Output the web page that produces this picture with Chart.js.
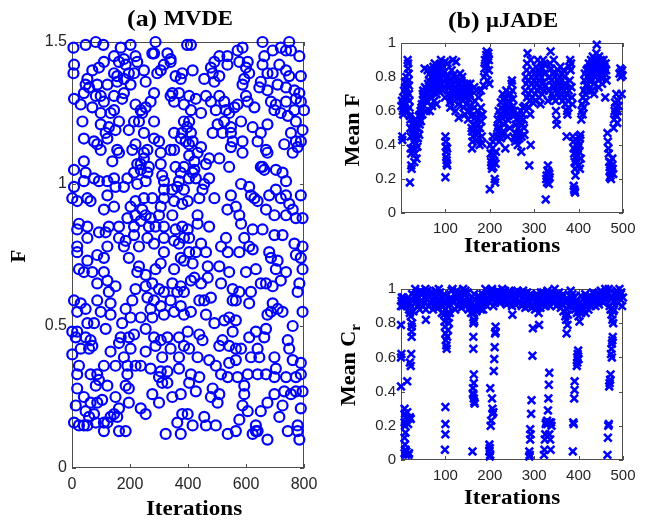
<!DOCTYPE html>
<html>
<head>
<meta charset="UTF-8">
<title>MVDE vs muJADE</title>
<script src="https://cdn.jsdelivr.net/npm/chart.js@4.4.1/dist/chart.umd.min.js"></script>
<style>
  body { margin: 0; background: #fff; }
  #wrap { position: relative; width: 649px; height: 524px; }
  canvas { position: absolute; }
</style>
</head>
<body>
<div id="wrap">
  <canvas id="mvde" width="330" height="524" style="left:0;top:0"></canvas>
  <canvas id="jadeF" width="319" height="262" style="left:330px;top:0"></canvas>
  <canvas id="jadeCr" width="319" height="262" style="left:330px;top:262px"></canvas>
</div>
<script>
// (a) MVDE: [iteration, F] in four quarters
const mvdeTopLeft = [[5,1.48],[47,1.49],[82,1.5],[108,1.49],[168,1.48],[202,1.49],[288,1.5],[397,1.49],
  [283,1.46],[277,1.46],[329,1.46],[340,1.44],[145,1.45],[179,1.44],[219,1.45],
  [7,1.42],[5,1.39],[110,1.43],[93,1.41],[162,1.43],[185,1.42],[225,1.43],[317,1.42],[340,1.43],
  [70,1.4],[53,1.37],[145,1.39],[156,1.38],[214,1.39],[248,1.4],[196,1.39],[306,1.4],[294,1.39],[357,1.38],[380,1.39],
  [47,1.35],[59,1.34],[87,1.35],[122,1.35],[156,1.36],[179,1.37],[202,1.35],[254,1.36],[375,1.37],
  [7,1.3],[41,1.32],[82,1.31],[99,1.31],[145,1.31],[179,1.32],[173,1.3],[283,1.32],[340,1.31],[369,1.32],[346,1.32],
  [30,1.28],[70,1.27],[110,1.29],[145,1.26],[219,1.28],[237,1.26],[254,1.27],[271,1.29],[242,1.25],[133,1.25],[99,1.25],[352,1.29],[386,1.28],
  [36,1.22],[99,1.21],[127,1.2],[162,1.22],[214,1.22],[231,1.22],[283,1.22],[386,1.22],[397,1.2],
  [41,1.16],[76,1.15],[116,1.18],[122,1.16],[150,1.19],[196,1.19],[248,1.18],[283,1.16],[300,1.15],[352,1.18],[380,1.18],[375,1.16],[392,1.15],[87,1.14],
  [99,1.12],[156,1.12],[162,1.11],[208,1.12],[219,1.14],[248,1.11],[260,1.12],[306,1.11],[340,1.12],[352,1.12],[403,1.14],
  [41,1.08],[7,1.05],[139,1.08],[225,1.07],[248,1.09],[237,1.07],[265,1.06],[306,1.07],[357,1.06],[386,1.06],
  [47,1.04],[76,1.02],[122,1.01],[145,1.02],[191,1.02],[214,1.04],[237,1.05],[260,1.04],[311,1.03],[317,1.01],[375,1.04],[403,1.02],[363,0.99],
  [7,0.99],[41,1.01],[93,1.01],[150,0.99],[179,0.99],[225,1.0],[254,1.01],[317,0.98],[346,0.98],[386,0.98],[369,1.01],
  [1,0.95],[53,0.95],[64,0.94],[18,0.94],[122,0.96],[219,0.94],[248,0.95],[277,0.95],[306,0.92],[352,0.94],[380,0.93],[317,0.95],
  [110,0.91],[145,0.92],[202,0.92],[242,0.91],[254,0.89],[271,0.88],[300,0.89],[219,0.89],[191,0.88],[346,0.89],
  [24,0.86],[53,0.85],[18,0.84],[93,0.83],[127,0.85],[162,0.85],[214,0.85],[237,0.87],[265,0.85],[288,0.85],[317,0.85],[380,0.85],[116,0.83],[357,0.84],
  [18,0.78],[53,0.81],[162,0.81],[185,0.8],[214,0.82],[260,0.81],[283,0.79],[317,0.81],[352,0.8],[369,0.79],[386,0.81],[122,0.78],[179,0.78],[231,0.78]];

const mvdeTopRight = [[410,1.49],[657,1.5],[588,1.48],[571,1.47],[692,1.47],[720,1.48],[749,1.5],[755,1.47],[738,1.47],[784,1.45],[663,1.45],[657,1.42],[715,1.42],
  [508,1.45],[536,1.45],[491,1.43],[479,1.41],[577,1.43],[606,1.43],[600,1.41],[416,1.4],[485,1.39],[508,1.38],[536,1.42],[611,1.39],[674,1.39],[692,1.39],
  [738,1.4],[749,1.38],[789,1.38],[456,1.37],[491,1.36],[594,1.37],[651,1.36],[588,1.35],[646,1.34],[709,1.35],[738,1.34],[674,1.33],[767,1.33],[784,1.32],
  [404,1.31],[427,1.3],[462,1.31],[479,1.29],[508,1.31],[525,1.29],[571,1.28],[600,1.31],[606,1.29],[629,1.27],[686,1.29],[703,1.28],[738,1.29],[772,1.3],[789,1.29],
  [410,1.26],[445,1.25],[496,1.26],[531,1.26],[560,1.27],[542,1.25],[698,1.26],[720,1.25],[744,1.24],[767,1.26],[800,1.26],[772,1.22],[404,1.22],[502,1.21],
  [525,1.22],[548,1.2],[583,1.22],[623,1.2],[674,1.21],[410,1.18],[485,1.18],[519,1.18],[548,1.18],[588,1.15],[554,1.15],[651,1.18],[755,1.18],[795,1.19],
  [416,1.15],[445,1.13],[433,1.11],[404,1.1],[548,1.13],[588,1.11],[640,1.15],[732,1.14],[772,1.15],[789,1.15],[761,1.11],[778,1.13],[669,1.12],[674,1.11],
  [473,1.09],[508,1.09],[462,1.07],[422,1.08],[422,1.05],[542,1.06],[657,1.06],[651,1.06],[663,1.05],[703,1.05],[726,1.04],[738,1.01],[473,1.02],[456,1.0],
  [450,0.98],[416,1.04],[427,1.02],[583,1.0],[611,0.99],[629,0.95],[548,0.96],[491,0.95],[703,0.98],[720,0.95],[680,0.96],[738,0.96],[789,0.96],[399,0.94],
  [439,0.95],[617,0.96],[640,0.94],[669,0.91],[536,0.91],[565,0.92],[577,0.89],[749,0.93],[761,0.91],[772,0.88],[795,0.88],[738,0.89],[698,0.89],[433,0.89],
  [433,0.86],[473,0.85],[583,0.86],[623,0.84],[657,0.84],[698,0.82],[726,0.82],[531,0.81],[404,0.81],[445,0.79],[514,0.78],[594,0.81],[611,0.78],[767,0.79],
  [795,0.78],[680,0.76],[399,0.84]];

const mvdeBottomLeft = [[18,0.76],[87,0.75],[110,0.74],[196,0.74],[317,0.76],[375,0.74],[24,0.7],[53,0.73],[41,0.69],[70,0.69],[110,0.69],[231,0.71],[225,0.69],
  [254,0.68],[288,0.7],[306,0.72],[352,0.7],[386,0.73],[87,0.65],[122,0.66],[150,0.64],[127,0.62],[219,0.63],[254,0.64],[277,0.65],[300,0.63],[317,0.62],
  [346,0.65],[375,0.64],[386,0.62],[363,0.62],[7,0.59],[30,0.58],[87,0.59],[133,0.58],[208,0.59],[260,0.6],[283,0.59],[306,0.57],[340,0.59],[375,0.57],
  [47,0.56],[18,0.55],[99,0.55],[133,0.54],[185,0.56],[271,0.56],[173,0.51],[202,0.53],[237,0.53],[277,0.53],[317,0.54],[352,0.55],[386,0.54],[53,0.51],
  [76,0.51],[116,0.49],[1,0.48],[18,0.48],[13,0.46],[47,0.46],[70,0.43],[64,0.45],[168,0.46],[196,0.46],[214,0.47],[254,0.49],[283,0.46],[306,0.45],
  [329,0.46],[369,0.46],[386,0.43],[1,0.4],[30,0.42],[59,0.42],[133,0.41],[162,0.44],[202,0.42],[179,0.39],[254,0.41],[288,0.43],[311,0.39],[340,0.42],
  [369,0.39],[110,0.36],[24,0.36],[150,0.36],[191,0.36],[219,0.36],[237,0.36],[191,0.33],[271,0.35],[306,0.34],[300,0.32],[329,0.34],[369,0.35],[18,0.33],
  [64,0.33],[87,0.33],[93,0.31],[122,0.29],[82,0.29],[185,0.29],[196,0.28],[311,0.3],[329,0.3],[18,0.28],[41,0.25],[150,0.25],[104,0.24],[87,0.23],
  [64,0.23],[196,0.23],[277,0.26],[300,0.23],[346,0.25],[375,0.26],[237,0.21],[254,0.19],[13,0.22],[47,0.2],[76,0.19],[59,0.18],[145,0.19],[162,0.21],
  [133,0.18],[156,0.18],[185,0.13],[380,0.19],[363,0.16],[7,0.16],[24,0.15],[41,0.15],[53,0.15],[82,0.16],[110,0.16],[110,0.13],[162,0.13],[323,0.12],
  [375,0.12],[122,0.16]];

const mvdeBottomRight = [[404,0.76],[427,0.76],[462,0.76],[537,0.76],[577,0.76],[623,0.77],[686,0.74],[709,0.73],[772,0.75],[789,0.74],[416,0.72],[468,0.71],
  [508,0.71],[542,0.69],[600,0.69],[634,0.7],[703,0.7],[738,0.69],[795,0.7],[410,0.66],[445,0.65],[468,0.67],[422,0.67],[514,0.65],[554,0.63],[577,0.62],
  [617,0.62],[651,0.65],[669,0.65],[692,0.64],[720,0.66],[784,0.65],[778,0.62],[439,0.59],[456,0.59],[479,0.6],[554,0.59],[565,0.59],[611,0.58],[692,0.58],
  [709,0.56],[726,0.55],[686,0.55],[674,0.54],[795,0.55],[761,0.5],[410,0.55],[462,0.54],[525,0.52],[542,0.53],[565,0.52],[491,0.51],[554,0.48],[399,0.48],
  [450,0.45],[439,0.47],[611,0.46],[634,0.48],[663,0.46],[669,0.49],[744,0.45],[508,0.43],[519,0.45],[542,0.43],[565,0.42],[583,0.42],[617,0.39],[640,0.42],
  [646,0.39],[698,0.39],[749,0.42],[761,0.38],[789,0.37],[404,0.42],[433,0.39],[473,0.38],[496,0.36],[542,0.37],[565,0.38],[606,0.33],[640,0.33],[669,0.33],
  [703,0.35],[698,0.32],[738,0.32],[772,0.32],[789,0.33],[410,0.33],[439,0.32],[404,0.3],[514,0.33],[537,0.32],[571,0.32],[427,0.27],[485,0.28],[508,0.26],
  [594,0.29],[594,0.26],[698,0.26],[732,0.27],[755,0.26],[772,0.27],[795,0.27],[479,0.25],[502,0.23],[588,0.22],[606,0.2],[651,0.2],[674,0.23],[726,0.22],
  [789,0.21],[399,0.19],[456,0.18],[416,0.15],[462,0.15],[496,0.15],[577,0.17],[634,0.15],[634,0.13],[640,0.13],[715,0.18],[744,0.13],[778,0.15],[778,0.13],
  [784,0.1],[537,0.12],[565,0.13],[674,0.1],[623,0.12]];

// (b) muJADE mean F per iteration
const jadeMeanF = [[1,0.63],[2,0.66],[3,0.45],[3,0.43],[4,0.6],[5,0.68],[6,0.64],[7,0.72],[8,0.62],[9,0.77],[10,0.7],[10,0.74],[5,0.58],
  [12,0.8],[13,0.76],[14,0.73],[15,0.9],[16,0.88],[16,0.85],[17,0.82],[17,0.78],[18,0.75],[18,0.7],[19,0.66],[19,0.62],[20,0.57],[21,0.55],[21,0.5],[22,0.45],
  [22,0.38],[23,0.35],[23,0.28],[24,0.26],[20,0.18],[15,0.6],[14,0.68],
  [26,0.52],[27,0.46],[28,0.42],[29,0.38],[30,0.48],[31,0.44],[32,0.35],[33,0.5],[34,0.41],[35,0.47],[36,0.53],[37,0.39],[38,0.44],[39,0.5],[40,0.57],[41,0.46],
  [42,0.52],[43,0.58],[44,0.6],[45,0.54],[30,0.3],[35,0.32],[33,0.55],[28,0.5],
  [46,0.62],[47,0.64],[48,0.58],[49,0.7],[50,0.72],[51,0.66],[52,0.68],[53,0.85],[54,0.74],[55,0.69],[56,0.71],[57,0.6],[58,0.73],[59,0.65],[60,0.84],
  [61,0.76],[62,0.7],[63,0.78],[64,0.82],[65,0.72],[66,0.68],[67,0.75],[68,0.8],[69,0.84],[70,0.77],[71,0.73],[72,0.79],[73,0.86],[74,0.71],[75,0.81],[76,0.88],
  [77,0.74],[78,0.78],[79,0.83],[80,0.7],[81,0.76],[82,0.85],[83,0.8],[84,0.72],[85,0.78],[86,0.87],[87,0.82],[88,0.75],[89,0.79],[90,0.9],[91,0.84],[92,0.76],
  [93,0.72],[94,0.81],[95,0.86],[96,0.78],[97,0.74],[98,0.83],[99,0.68],[99,0.89],[65,0.6],[70,0.63],[75,0.66],[80,0.64],
  [100,0.45],[101,0.42],[101,0.39],[102,0.36],[102,0.33],[103,0.31],[103,0.29],[104,0.28],[100,0.21],[104,0.38],
  [105,0.88],[106,0.8],[107,0.74],[108,0.7],[109,0.76],[110,0.65],[111,0.62],[112,0.72],[113,0.78],[114,0.84],[115,0.69],[116,0.75],[117,0.9],[118,0.81],
  [119,0.73],[120,0.66],[121,0.71],[122,0.77],[123,0.6],[124,0.89],[125,0.74],[126,0.68],[127,0.8],[128,0.72],[129,0.64],[130,0.56],[108,0.78],[112,0.67],[118,0.7],
  [131,0.7],[132,0.76],[133,0.82],[134,0.74],[135,0.68],[136,0.78],[137,0.73],[138,0.8],[139,0.7],[140,0.66],[141,0.62],[142,0.74],[143,0.7],[144,0.58],
  [145,0.72],[146,0.68],[147,0.64],[148,0.7],[149,0.76],[150,0.74],[151,0.55],[152,0.6],[153,0.67],[154,0.72],[155,0.7],[156,0.76],[157,0.63],[158,0.57],
  [159,0.5],[160,0.48],[160,0.38],[161,0.42],[162,0.45],[163,0.52],[164,0.58],[165,0.62],[166,0.66],[167,0.56],[168,0.5],[169,0.46],[170,0.43],[171,0.48],
  [172,0.55],[173,0.6],[174,0.52],[175,0.47],[176,0.44],[177,0.4],[178,0.5],[179,0.57],[180,0.62],[181,0.54],[182,0.45],[183,0.41],[184,0.58],[170,0.72],
  [175,0.68],[165,0.74],[180,0.72],
  [186,0.75],[187,0.8],[188,0.85],[189,0.9],[190,0.88],[191,0.82],[192,0.93],[193,0.95],[194,0.87],[195,0.78],[196,0.92],[197,0.94],[198,0.84],[199,0.76],[198,0.9],
  [200,0.14],[201,0.4],[202,0.35],[203,0.3],[204,0.28],[205,0.32],[206,0.38],[207,0.42],[208,0.27],[209,0.3],[210,0.34],[211,0.2],[212,0.18],[213,0.29],
  [214,0.36],[207,0.45],[205,0.26],
  [216,0.45],[217,0.5],[218,0.55],[219,0.48],[220,0.6],[221,0.42],[222,0.54],[223,0.58],[224,0.5],[225,0.65],[226,0.62],[227,0.56],[228,0.46],[229,0.7],
  [230,0.67],[231,0.6],[232,0.52],[233,0.63],[234,0.68],[235,0.38],[236,0.57],[237,0.72],[238,0.64],[239,0.6],[240,0.55],[241,0.69],[242,0.66],[243,0.62],
  [244,0.58],[245,0.5],[246,0.65],[247,0.7],[248,0.6],[249,0.76],[250,0.78],[251,0.72],[252,0.67],[253,0.63],[254,0.57],[255,0.6],[225,0.44],[230,0.48],[240,0.45],
  [256,0.44],[257,0.42],[258,0.47],[259,0.52],[260,0.55],[261,0.46],[262,0.43],[263,0.4],[264,0.5],[265,0.58],[266,0.53],[267,0.44],[268,0.48],[269,0.56],
  [270,0.6],[271,0.36],[272,0.45],[273,0.52],[274,0.58],[275,0.62],[276,0.55],[277,0.5],[278,0.46],[279,0.63],[280,0.72],
  [281,0.8],[282,0.76],[283,0.84],[284,0.88],[285,0.94],[286,0.78],[287,0.7],[288,0.62],[289,0.28],[290,0.66],[292,0.4],[291,0.58],[284,0.68],
  [292,0.9],[293,0.72],[294,0.8],[295,0.76],[296,0.68],[297,0.65],[298,0.84],[299,0.78],[300,0.74],[301,0.82],[302,0.7],[303,0.66],[304,0.86],[305,0.8],
  [306,0.76],[307,0.72],[308,0.9],[309,0.84],[310,0.78],[311,0.68],[312,0.74],[313,0.82],[314,0.64],[315,0.88],[316,0.8],[317,0.76],[318,0.7],[319,0.85],
  [320,0.9],[321,0.77],[322,0.72],[323,0.82],[324,0.87],[325,0.75],
  [326,0.08],[327,0.2],[328,0.22],[329,0.18],[330,0.25],[331,0.28],[332,0.2],[333,0.17],[334,0.23],[335,0.21],[332,0.24],
  [331,0.66],[333,0.72],[335,0.8],[336,0.88],[337,0.95],[338,0.85],[339,0.78],[340,0.7],[341,0.75],[342,0.82],[343,0.68],[344,0.9],[345,0.74],
  [346,0.8],[347,0.72],[348,0.66],[349,0.6],[350,0.55],[351,0.52],[352,0.7],[353,0.78],[354,0.84],[355,0.76],[356,0.68],[357,0.72],[358,0.8],[359,0.86],
  [360,0.74],[361,0.7],[362,0.78],[363,0.82],[364,0.66],[365,0.75],[366,0.84],[367,0.72],[368,0.8],[369,0.68],[370,0.64],[371,0.76],[372,0.7],[373,0.45],
  [374,0.6],[375,0.58],[376,0.66],[377,0.62],[378,0.72],[379,0.86],[380,0.78],
  [381,0.9],[382,0.84],[383,0.88],[384,0.74],[385,0.68],[386,0.64],[387,0.45],[388,0.42],[389,0.38],[390,0.35],[391,0.3],[392,0.26],[393,0.22],[389,0.16],
  [390,0.14],[391,0.13],[392,0.12],[394,0.32],[395,0.4],[393,0.36],
  [396,0.3],[397,0.34],[398,0.38],[399,0.42],[400,0.28],[401,0.36],[402,0.4],[403,0.44],[404,0.46],[405,0.32],[406,0.55],[407,0.6],[408,0.64],[409,0.58],
  [410,0.68],[403,0.26],
  [411,0.62],[412,0.72],[413,0.78],[414,0.82],[415,0.7],[416,0.66],[417,0.75],[418,0.84],[419,0.8],[420,0.76],[421,0.85],[422,0.72],[423,0.88],[424,0.78],[425,0.82],
  [426,0.86],[427,0.8],[428,0.9],[429,0.84],[430,0.78],[431,0.88],[432,0.92],[433,0.82],[434,0.86],[435,0.76],[436,0.9],[437,0.84],[438,0.8],[439,0.88],
  [440,0.94],[441,0.99],[442,0.86],[443,0.82],[444,0.9],[445,0.78],[446,0.92],[447,0.88],[448,0.84],[449,0.8],[450,0.9],[451,0.86],[452,0.82],[453,0.76],
  [454,0.88],[455,0.84],[456,0.9],[457,0.8],[458,0.86],[459,0.82],[460,0.68],[461,0.88],[462,0.84],[463,0.78],[430,0.72],[435,0.7],[445,0.74],
  [465,0.47],[466,0.42],[467,0.38],[468,0.35],[469,0.3],[470,0.27],[471,0.25],[472,0.22],[473,0.2],[474,0.24],[475,0.28],[476,0.32],[477,0.26],[478,0.23],
  [472,0.3],[470,0.21],
  [479,0.5],[480,0.55],[481,0.6],[482,0.65],[483,0.58],[484,0.62],[485,0.7],[486,0.57],[487,0.53],[488,0.6],[489,0.66],[490,0.63],
  [492,0.82],[494,0.85],[495,0.8],[496,0.83],[497,0.7],[498,0.84],[499,0.81]];

// (b) muJADE mean Cr: dense band near 1 and the drops below it
const jadeCrBand = [[4,0.91],[6,0.94],[12,0.92],[14,0.9],[16,0.95],[18,0.88],[20,0.86],[22,0.84],[24,0.9],[26,0.93],[28,0.87],[30,0.96],[32,1.0],[34,0.92],
  [36,0.98],[38,0.9],[40,0.95],[42,0.88],[44,0.99],[46,0.93],[48,0.97],[50,0.9],[52,0.95],[54,0.98],[56,0.88],[58,0.94],[60,0.99],[62,0.9],[64,0.96],[66,0.92],
  [68,0.98],[70,0.94],[72,0.88],[74,0.97],[76,0.93],[78,0.99],[80,0.91],[82,0.96],[84,0.89],[86,0.94],[88,0.98],[90,0.92],[92,0.86],[94,0.95],[96,0.9],
  [98,0.97],[100,0.88],[102,0.93],[104,0.84],[106,0.9],[108,0.8],[110,0.86],[112,0.95],[114,0.99],[116,1.0],[118,0.92],[120,0.97],[122,0.88],[124,0.94],
  [126,0.99],[128,0.9],[130,0.96],[132,0.93],[134,0.98],[136,0.89],[138,0.95],[140,1.0],[142,0.92],[144,0.97],[146,0.9],[148,0.95],[150,0.98],[152,0.88],
  [154,0.94],[156,0.9],[158,0.86],[160,0.92],[162,0.88],[164,0.86],[166,0.9],[168,0.94],[170,0.87],[172,0.92],[174,0.96],[176,0.9],[178,0.95],[180,0.88],
  [182,0.93],[184,0.97],[186,0.91],[188,0.96],[190,1.0],[192,0.94],[194,0.9],[196,0.98],[198,0.93],[200,0.96],[202,0.99],[204,0.94],[206,0.97],[208,0.9],
  [210,0.95],[212,0.92],[214,0.98],[216,0.94],[218,0.99],[220,0.96],[222,0.92],[224,0.98],[226,0.95],[228,1.0],[230,0.97],[232,0.93],[234,0.99],[236,0.95],
  [238,0.91],[240,0.97],[242,0.94],[244,0.99],[246,0.92],[248,0.96],[250,0.9],[252,0.97],[254,0.93],[256,0.98],[258,0.91],[260,0.95],[262,0.99],[264,0.92],
  [266,0.96],[268,0.93],[270,0.98],[272,0.9],[274,0.95],[276,0.92],[278,0.97],[280,0.89],[282,0.94],[284,0.98],[286,0.9],[288,0.95],[290,0.92],[292,0.97],
  [294,0.89],[296,0.94],[298,0.9],[300,0.96],[302,0.88],[304,0.93],[306,0.97],[308,0.9],[310,0.86],[312,0.94],[314,0.89],[316,0.95],[318,0.91],[320,0.98],
  [322,0.93],[324,0.97],[326,0.9],[328,0.95],[330,0.99],[332,0.92],[334,0.96],[336,0.9],[338,0.95],[340,0.98],[342,0.93],[344,0.97],[346,1.0],[348,0.94],
  [350,0.9],[352,0.96],[354,0.92],[356,0.98],[358,0.94],[360,0.89],[362,0.95],[364,0.91],[366,0.87],[368,0.93],[370,0.84],[372,0.82],[374,0.88],[376,0.85],
  [378,0.9],[380,0.96],[382,0.99],[384,0.93],[386,0.97],[388,0.9],[390,0.95],[392,0.88],[394,0.92],[396,0.86],[398,0.9],[400,0.84],[402,0.88],[404,0.92],
  [406,0.86],[408,0.9],[410,0.94],[412,0.88],[414,0.92],[416,0.86],[418,0.9],[420,0.95],[422,0.88],[424,0.92],[426,0.96],[428,0.9],[430,0.94],[432,0.98],
  [434,0.92],[436,0.95],[438,0.9],[440,0.97],[442,0.93],[444,0.96],[446,0.91],[448,0.95],[450,0.99],[452,0.93],[454,0.97],[456,0.92],[458,0.96],[460,1.0],
  [462,0.94],[464,0.98],[466,0.95],[468,1.0],[470,0.9],[472,0.88],[474,0.85],[476,0.82],[478,0.87],[480,0.93],[482,0.98],[484,0.95],[486,0.99],[488,0.92],
  [490,0.96],[492,1.0],[494,0.94],[496,0.98],[498,0.9],[500,0.95],
  [3,0.9],[5,0.95],[15,0.92],[25,0.97],[35,0.94],[45,0.91],[55,1.0],[65,0.95],[75,0.9],[85,1.0],[95,0.93],[105,0.86],[115,0.94],[125,0.96],[135,0.92],
  [145,0.99],[155,0.93],[165,0.97],[175,0.91],[185,0.88],[195,0.95],[205,1.0],[215,0.96],[225,0.93],[235,0.97],[245,0.98],[255,0.95],[265,0.97],[275,0.99],
  [285,0.93],[295,0.96],[305,0.9],[315,0.98],[325,0.95],[335,0.93],[345,0.95],[355,0.96],[365,0.97],[375,0.93],[385,0.95],[395,0.93],[405,0.96],[415,0.97],
  [425,0.93],[435,0.97],[445,0.93],[455,0.95],[465,0.97],[475,0.95],[485,0.93],[495,0.97]];

const jadeCrDrops = [[0,0.9],[1,0.93],[2,0.95],[0,0.79],[1,0.62],[0,0.6],[0,0.43],
  [8,0.3],[9,0.27],[10,0.25],[8,0.22],[9,0.2],[10,0.16],[8,0.13],[9,0.09],[10,0.06],[8,0.04],[11,0.03],[12,0.05],[14,0.28],[15,0.24],[16,0.21],[17,0.03],[18,0.04],
  [14,0.46],[20,0.57],[22,0.55],[23,0.62],[24,0.72],[24,0.75],[24,0.78],[25,0.8],[20,0.25],[22,0.24],
  [56,0.82],
  [97,0.85],[98,0.81],[99,0.78],[100,0.74],[101,0.7],[102,0.67],[103,0.65],[104,0.72],[105,0.83],[106,0.76],[100,0.31],[100,0.21],[100,0.15],[99,0.06],
  [161,0.05],[163,0.8],[164,0.82],[165,0.81],[163,0.72],[163,0.65],[164,0.5],[164,0.45],[162,0.42],[163,0.38],[164,0.36],[165,0.34],[166,0.33],[162,0.39],
  [201,0.03],[199,0.05],[200,0.07],[199,0.09],[200,0.02],[202,0.2],[203,0.23],[201,0.42],[205,0.36],[206,0.3],[208,0.28],[206,0.27],[209,0.52],[210,0.59],
  [211,0.66],[212,0.74],[213,0.75],[213,0.78],
  [251,0.85],
  [289,0.05],[290,0.03],[289,0.02],[291,0.12],[292,0.15],[291,0.18],[293,0.27],[294,0.35],[296,0.61],[297,0.77],
  [311,0.79],
  [322,0.03],[323,0.06],[324,0.12],[325,0.15],[326,0.21],[327,0.22],[329,0.23],[330,0.21],[331,0.29],[332,0.36],[333,0.44],[334,0.51],[335,0.22],[336,0.12],
  [337,0.06],[338,0.22],[339,0.2],[334,0.15],
  [373,0.74],[375,0.79],
  [387,0.05],[388,0.22],[389,0.21],[390,0.36],[391,0.41],[391,0.46],[396,0.55],[397,0.57],[397,0.6],[398,0.62],[399,0.64],[400,0.59],
  [402,0.81],
  [465,0.03],[466,0.13],[467,0.2],[468,0.21],[469,0.43],[470,0.45],[471,0.47],[472,0.5],[473,0.62],[474,0.65],[475,0.68],[476,0.7],[477,0.72],[478,0.8],
  [480,0.88],[475,0.6]];

const toXY = arr => arr.map(p => ({ x: p[0], y: p[1] }));
const BLUE = '#0000ff';
const SERIF = '"Liberation Serif", "Times New Roman", serif';
const SANS = '"Liberation Sans", Arial, sans-serif';

// MATLAB style box with inward ticks
const boxPlugin = {
  id: 'box',
  beforeDatasetsDraw(chart) {
    const { ctx, chartArea: a, scales } = chart;
    ctx.save();
    ctx.strokeStyle = '#4d4d4d';
    ctx.lineWidth = 1;
    ctx.strokeRect(a.left + 0.5, a.top + 0.5, a.right - a.left - 1, a.bottom - a.top - 1);
    ctx.beginPath();
    scales.x.ticks.forEach(t => {
      const px = Math.round(scales.x.getPixelForValue(t.value)) + 0.5;
      ctx.moveTo(px, a.bottom); ctx.lineTo(px, a.bottom - 4);
      ctx.moveTo(px, a.top); ctx.lineTo(px, a.top + 4);
    });
    scales.y.ticks.forEach(t => {
      const py = Math.round(scales.y.getPixelForValue(t.value)) + 0.5;
      ctx.moveTo(a.left, py); ctx.lineTo(a.left + 4, py);
      ctx.moveTo(a.right, py); ctx.lineTo(a.right - 4, py);
    });
    ctx.stroke();
    ctx.restore();
  }
};

// panel titles and axis titles, with the subscript in C_r
const textPlugin = {
  id: 'panelText',
  afterDraw(chart, args, opts) {
    const ctx = chart.ctx;
    opts.items.forEach(it => {
      ctx.save();
      ctx.translate(it.x, it.y);
      if (it.rot) ctx.rotate(it.rot);
      ctx.scale(it.sx || 1, 1);
      ctx.fillStyle = '#000';
      ctx.textBaseline = 'middle';
      ctx.textAlign = 'left';
      let w = 0;
      it.parts.forEach(p => { ctx.font = 'bold ' + p.size + 'px ' + SERIF; w += ctx.measureText(p.t).width; });
      let cx = -w / 2;
      it.parts.forEach(p => {
        ctx.font = 'bold ' + p.size + 'px ' + SERIF;
        ctx.fillText(p.t, cx, p.dy || 0);
        cx += ctx.measureText(p.t).width;
      });
      ctx.restore();
    });
  }
};

function scatterSet(points, style) {
  return {
    data: toXY(points),
    showLine: false,
    clip: false,
    pointStyle: style,
    pointRadius: style === 'circle' ? 5 : 5.4,
    pointBorderWidth: style === 'circle' ? 2.2 : 2.6,
    pointBorderColor: BLUE,
    pointBackgroundColor: 'rgba(0,0,0,0)'
  };
}

function makeChart(id, datasets, o) {
  return new Chart(document.getElementById(id), {
    type: 'scatter',
    data: { datasets: datasets },
    plugins: [boxPlugin, textPlugin],
    options: {
      responsive: false,
      animation: false,
      events: [],
      layout: { padding: { left: 0, right: o.padRight, top: o.padTop, bottom: 0 } },
      plugins: {
        legend: { display: false },
        tooltip: { enabled: false },
        panelText: { items: o.texts }
      },
      scales: {
        x: {
          type: 'linear', min: o.xMin, max: o.xMax,
          grid: { display: false, drawTicks: false },
          border: { display: false },
          afterFit: s => { s.height = o.xHeight; },
          afterBuildTicks: s => { s.ticks = o.xTicks.map(v => ({ value: v })); },
          ticks: { font: { family: SANS, size: o.tickSize }, color: '#262626', padding: 7, autoSkip: false, maxRotation: 0,
                   callback: v => String(v) }
        },
        y: {
          type: 'linear', min: o.yMin, max: o.yMax,
          grid: { display: false, drawTicks: false },
          border: { display: false },
          afterFit: s => { s.width = o.yWidth; },
          afterBuildTicks: s => { s.ticks = o.yTicks.map(v => ({ value: v })); },
          ticks: { font: { family: SANS, size: o.tickSize }, color: '#262626', padding: 5,
                   callback: v => String(v) }
        }
      }
    }
  });
}

makeChart('mvde', [scatterSet(mvdeTopLeft.concat(mvdeTopRight, mvdeBottomLeft, mvdeBottomRight), 'circle')], {
  xMin: 0, xMax: 800, xTicks: [0, 200, 400, 600, 800],
  yMin: 0, yMax: 1.5, yTicks: [0, 0.5, 1, 1.5],
  padRight: 26, padTop: 42, xHeight: 56, yWidth: 72, tickSize: 16,
  texts: [
    { x: 180, y: 20, sx: 1.08, parts: [{ t: '(a) ', size: 24 }, { t: 'MVDE', size: 21 }] },
    { x: 194, y: 510, sx: 1.1, parts: [{ t: 'Iterations', size: 21 }] },
    { x: 20, y: 256, rot: -Math.PI / 2, parts: [{ t: 'F', size: 21 }] }
  ]
});

makeChart('jadeF', [scatterSet(jadeMeanF, 'crossRot')], {
  xMin: 0, xMax: 500, xTicks: [100, 200, 300, 400, 500],
  yMin: 0, yMax: 1, yTicks: [0, 0.2, 0.4, 0.6, 0.8, 1],
  padRight: 26, padTop: 43, xHeight: 49, yWidth: 71, tickSize: 15,
  texts: [
    { x: 173, y: 22, sx: 1.08, parts: [{ t: '(b) ', size: 24 }, { t: 'μJADE', size: 21 }] },
    { x: 182, y: 247, sx: 1.1, parts: [{ t: 'Iterations', size: 21 }] },
    { x: 23, y: 130, rot: -Math.PI / 2, parts: [{ t: 'Mean F', size: 22 }] }
  ]
});

makeChart('jadeCr', [scatterSet(jadeCrBand.concat(jadeCrDrops), 'crossRot')], {
  xMin: 0, xMax: 500, xTicks: [100, 200, 300, 400, 500],
  yMin: 0, yMax: 1, yTicks: [0, 0.2, 0.4, 0.6, 0.8, 1],
  padRight: 26, padTop: 27, xHeight: 64, yWidth: 71, tickSize: 15,
  texts: [
    { x: 182, y: 237, sx: 1.1, parts: [{ t: 'Iterations', size: 21 }] },
    { x: 19, y: 103, rot: -Math.PI / 2, parts: [{ t: 'Mean C', size: 22 }, { t: 'r', size: 15, dy: 7 }] }
  ]
});
</script>
</body>
</html>
